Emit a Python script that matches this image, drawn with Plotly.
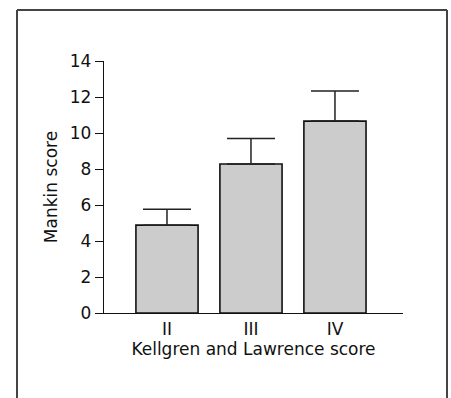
import plotly.graph_objects as go

categories = ["II", "III", "IV"]
mankin_mean = [4.88, 8.28, 10.66]
mankin_err = [0.88, 1.42, 1.68]
y_ticks = [0, 2, 4, 6, 8, 10, 12, 14]

W, H = 451, 398
ML, MR, MT, MB = 104, 48, 61, 85
PW, PH = W - ML - MR, H - MT - MB

def px_x(p):
    return (p - ML) / PW

def px_y(p):
    return (H - MB - p) / PH

fig = go.Figure()
fig.add_trace(go.Bar(
    x=list(range(len(categories))),
    y=mankin_mean,
    width=0.74,
    marker=dict(color="#cccccc", line=dict(color="#111111", width=1.6)),
    error_y=dict(type="data", array=mankin_err, symmetric=False, arrayminus=[0]*3,
                 color="#222222", thickness=1.5, width=24),
))

font = "DejaVu Sans, Verdana, sans-serif"
FS = 17
fig.update_layout(
    width=W, height=H,
    margin=dict(l=ML, r=MR, t=MT, b=MB),
    paper_bgcolor="white", plot_bgcolor="white",
    showlegend=False,
    font=dict(family=font, size=FS, color="#111111"),
    xaxis=dict(
        range=[-0.75, 2.81],
        tickmode="array", tickvals=list(range(len(categories))), ticktext=categories,
        tickfont=dict(family=font, size=FS, color="#111111"),
        showline=True, linecolor="#111111", linewidth=1.3,
        ticks="", showgrid=False, zeroline=False,
        title=dict(text="Kellgren and Lawrence score", standoff=3,
                   font=dict(family=font, size=FS, color="#111111")),
    ),
    yaxis=dict(
        range=[0, 14],
        tickmode="array", tickvals=y_ticks,
        tickfont=dict(family=font, size=FS, color="#111111"),
        showline=True, linecolor="#111111", linewidth=1.3,
        ticks="outside", ticklen=8, tickcolor="#111111", tickwidth=1,
        showgrid=False, zeroline=False,
        title=dict(text="Mankin score", standoff=7,
                   font=dict(family=font, size=FS, color="#111111")),
    ),
    shapes=[
        dict(type="line", xref="paper", yref="paper", x0=px_x(17), x1=px_x(17), y0=px_y(10), y1=px_y(420),
             line=dict(color="#444444", width=2)),
        dict(type="line", xref="paper", yref="paper", x0=px_x(17), x1=px_x(447), y0=px_y(10), y1=px_y(10),
             line=dict(color="#444444", width=2)),
        dict(type="line", xref="paper", yref="paper", x0=px_x(447), x1=px_x(447), y0=px_y(10), y1=px_y(420),
             line=dict(color="#444444", width=2)),
    ],
)

fig.write_html("out.html")
